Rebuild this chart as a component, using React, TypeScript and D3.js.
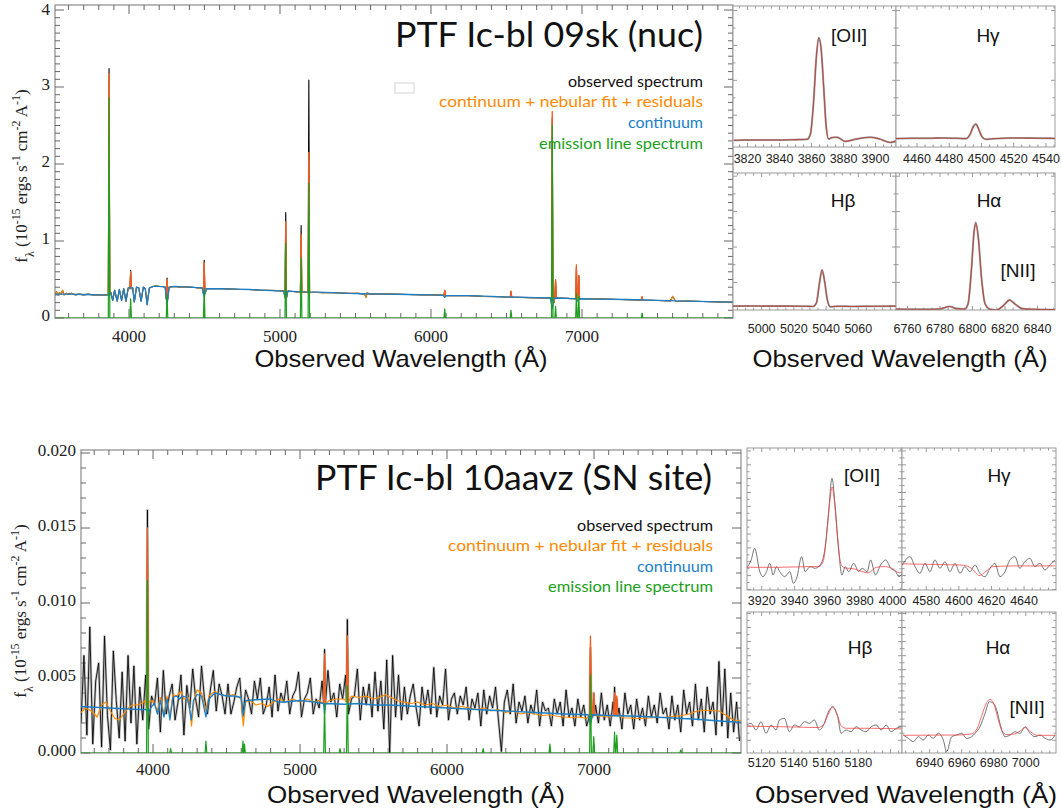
import React from "react";
import * as d3 from "d3";

type Pt = [number, number];

// ================= TOP: PTF Ic-bl 09sk (nuc), flux in 1e-15 =================
const mainXTicks = [4000, 5000, 6000, 7000];
const topYTicks = [0, 1, 2, 3, 4];
const topContinuum: Pt[] = [
  [3510, 0.31], [3600, 0.31], [3700, 0.305], [3800, 0.3], [3860, 0.3], [3880, 0.33], [3892, 0.23], [3905, 0.36],
  [3922, 0.22], [3936, 0.37], [3951, 0.23], [3965, 0.38], [3980, 0.22], [3995, 0.39], [4025, 0.39], [4035, 0.21],
  [4050, 0.4], [4065, 0.39], [4080, 0.22], [4095, 0.4], [4108, 0.38], [4120, 0.17], [4135, 0.39], [4160, 0.41],
  [4200, 0.41], [4240, 0.4], [4252, 0.16], [4265, 0.4], [4300, 0.41], [4400, 0.4], [4485, 0.39], [4498, 0.27],
  [4512, 0.38], [4600, 0.38], [4700, 0.375], [4800, 0.37], [4900, 0.36], [5025, 0.35], [5038, 0.24], [5052, 0.35],
  [5150, 0.34], [5250, 0.335], [5350, 0.33], [5450, 0.32], [5550, 0.315], [5700, 0.31], [5850, 0.305], [6000, 0.3],
  [6080, 0.295], [6091, 0.27], [6100, 0.29], [6250, 0.29], [6400, 0.28], [6550, 0.27], [6700, 0.265], [6790, 0.26],
  [6803, 0.12], [6816, 0.26], [6900, 0.255], [6960, 0.25], [6970, 0.22], [6985, 0.25], [7100, 0.245], [7300, 0.24],
  [7500, 0.23], [7700, 0.22], [7900, 0.21], [8000, 0.205],
];
const topObserved: Pt[] = [
  [3510, 0.31], [3520, 0.34], [3530, 0.3], [3540, 0.33], [3550, 0.31], [3560, 0.36], [3570, 0.3], [3585, 0.32],
  [3600, 0.31], [3620, 0.32], [3645, 0.3], [3670, 0.31], [3700, 0.3], [3730, 0.31], [3760, 0.3], [3790, 0.3],
  [3820, 0.295], [3850, 0.3], [3880, 0.33], [3892, 0.23], [3905, 0.36], [3922, 0.22], [3936, 0.37], [3951, 0.23],
  [3965, 0.38], [3980, 0.22], [3995, 0.39], [4025, 0.39], [4035, 0.21], [4050, 0.4], [4065, 0.39], [4080, 0.22],
  [4095, 0.4], [4108, 0.38], [4120, 0.18], [4135, 0.39], [4160, 0.41], [4180, 0.42], [4200, 0.41], [4225, 0.41],
  [4240, 0.4], [4246, 0.25], [4258, 0.25], [4265, 0.4], [4300, 0.41], [4340, 0.4], [4380, 0.405], [4420, 0.4],
  [4460, 0.39], [4485, 0.39], [4492, 0.32], [4505, 0.32], [4512, 0.38], [4560, 0.38], [4620, 0.38], [4680, 0.375],
  [4740, 0.37], [4800, 0.37], [4860, 0.36], [4920, 0.36], [4980, 0.355], [5025, 0.35], [5032, 0.27], [5045, 0.27],
  [5052, 0.35], [5100, 0.34], [5160, 0.34], [5220, 0.335], [5280, 0.33], [5340, 0.33], [5400, 0.325], [5460, 0.32],
  [5520, 0.32], [5560, 0.31], [5570, 0.27], [5578, 0.33], [5590, 0.31], [5650, 0.31], [5750, 0.31], [5850, 0.305],
  [5950, 0.3], [6050, 0.3], [6085, 0.295], [6100, 0.29], [6150, 0.29], [6250, 0.29], [6350, 0.28], [6450, 0.275],
  [6550, 0.27], [6650, 0.265], [6750, 0.26], [6790, 0.26], [6815, 0.2], [6835, 0.26], [6900, 0.255], [6950, 0.25],
  [6990, 0.25], [7050, 0.25], [7150, 0.245], [7250, 0.24], [7350, 0.235], [7450, 0.23], [7550, 0.225], [7585, 0.22],
  [7600, 0.28], [7610, 0.25], [7620, 0.215], [7700, 0.22], [7800, 0.215], [7900, 0.21], [8000, 0.205],
];
// [wavelength, base, observed peak, fit peak, emission-line peak]
const topLines: number[][] = [
  [3868, 0.3, 3.24, 3.17, 2.86],
  [4011, 0.38, 0.62, 0.6, 0.25],
  [4252, 0.25, 0.52, 0.5, 0.3],
  [4498, 0.33, 0.75, 0.72, 0.38],
  [5038, 0.28, 1.37, 1.25, 0.97],
  [5140, 0.33, 1.2, 1.08, 0.78],
  [5191, 0.33, 3.09, 2.15, 1.75],
  [6091, 0.29, 0.36, 0.36, 0.12],
  [6530, 0.27, 0.34, 0.35, 0.1],
  [6803, 0.22, 2.6, 2.68, 2.5],
  [6825, 0.26, 0.48, 0.5, 0.15],
  [6963, 0.25, 0.66, 0.69, 0.32],
  [6979, 0.25, 0.55, 0.55, 0.28],
  [7398, 0.23, 0.27, 0.28, 0.06],
];

// ================= BOTTOM: PTF Ic-bl 10aavz (SN site), flux in units of 1e-3 (x1e-15) =================
const bottomYTicks = [0, 5, 10, 15, 20];
const bottomYTickLabels = ["0.000", "0.005", "0.010", "0.015", "0.020"];
const bottomObsStart = 3510;
const bottomObsStep = 20;
const bottomObserved = [
  2.0, 6.5, 1.2, 8.4, 0.6, 4.8, 6.0, 0.4, 7.8, 2.5,
  0.2, 6.8, 3.5, 1.0, 5.4, 0.8, 6.5, 2.0, 5.8, 0.6,
  4.4, 2.2, 5.2, 1.6, 3.8, 3.2, 5.0, 1.4, 5.5, 2.6,
  3.8, 4.6, 2.2, 3.4, 5.2, 1.2, 4.5, 3.0, 5.6, 3.6,
  2.4, 5.8, 3.6, 2.6, 4.2, 5.5, 2.8, 4.6, 3.8, 2.6,
  4.6, 2.6, 3.4, 4.4, 5.0, 2.4, 4.2, 3.6, 2.6, 4.8,
  3.6, 5.0, 2.6, 3.2, 4.4, 2.4, 5.2, 2.8, 4.0, 3.4,
  4.8, 2.6, 3.8, 4.2, 5.4, 2.4, 3.6, 4.0, 5.0, 2.6,
  3.6, 3.0, 4.8, 2.8, 5.5, 3.4, 4.0, 2.4, 4.6, 3.6,
  5.2, 2.6, 3.6, 3.8, 5.6, 2.2, 4.4, 3.2, 4.6, 2.4,
  5.4, 2.8, 4.8, 1.6, 6.2, 0.0, 6.5, 2.4, 5.2, 2.2,
  4.4, 2.6, 3.8, 4.6, 3.0, 1.8, 4.4, 3.0, 4.2, 2.6,
  5.7, 2.4, 3.8, 3.2, 5.6, 2.2, 3.6, 4.0, 2.6, 3.8,
  3.2, 4.4, 2.2, 3.6, 3.0, 4.0, 1.8, 4.2, 2.6, 3.8,
  3.0, 4.4, 2.2, 0.1, 3.4, 4.2, 2.6, 4.6, 2.0, 3.4,
  2.8, 3.8, 2.0, 3.2, 2.6, 4.2, 1.8, 3.4, 2.8, 3.0,
  1.8, 3.6, 2.6, 3.4, 1.8, 4.2, 2.4, 3.0, 1.8, 3.6,
  2.4, 3.2, 1.8, 3.6, 2.4, 3.2, 2.0, 4.0, 2.2, 3.2,
  1.8, 3.4, 2.6, 3.0, 1.6, 4.0, 2.6, 3.2, 1.6, 3.6,
  2.2, 3.0, 1.8, 3.8, 2.4, 3.2, 2.0, 4.0, 2.6, 3.0,
  1.6, 3.8, 2.2, 3.2, 1.4, 4.2, 2.6, 3.4, 1.8, 4.6,
  2.2, 3.6, 1.4, 4.4, 2.6, 3.4, 1.2, 6.1, 1.8, 5.6,
  1.0, 4.0, 1.4, 3.4, 0.8,
];
const bottomContinuum: Pt[] = [
  [3510, 3.1], [3700, 3.0], [3900, 2.9], [3950, 2.9], [3970, 2.7], [3990, 3.1], [4010, 3.3], [4030, 2.6], [4050, 3.5],
  [4075, 2.4], [4095, 3.6], [4115, 2.2], [4135, 3.7], [4160, 3.8], [4180, 3.6], [4200, 3.8], [4230, 3.7], [4245, 3.2],
  [4260, 2.2], [4275, 3.5], [4300, 3.9], [4330, 3.8], [4360, 2.4], [4380, 3.6], [4420, 4.0], [4460, 3.9], [4500, 3.8],
  [4550, 3.8], [4600, 3.7], [4614, 2.5], [4630, 3.5], [4700, 3.55], [4800, 3.6], [4850, 3.4], [4900, 3.4], [5000, 3.5],
  [5100, 3.4], [5160, 3.3], [5167, 2.6], [5175, 3.3], [5300, 3.25], [5400, 3.3], [5500, 3.2], [5600, 3.2], [5700, 3.15],
  [5800, 3.1], [6000, 3.0], [6200, 2.9], [6400, 2.8], [6600, 2.7], [6800, 2.6], [6960, 2.55], [6976, 1.9], [6990, 2.55],
  [7100, 2.5], [7300, 2.45], [7500, 2.35], [7700, 2.25], [7900, 2.1], [8000, 2.05],
];
const bottomFit: Pt[] = [
  [3510, 2.7], [3540, 3.0], [3580, 2.8], [3620, 2.4], [3650, 3.2], [3680, 3.4], [3710, 2.8], [3740, 2.3], [3770, 2.2],
  [3800, 2.6], [3830, 3.0], [3860, 3.2], [3890, 3.2], [3920, 3.3], [3950, 3.5], [3970, 3.4], [4000, 3.5], [4030, 2.8],
  [4050, 3.7], [4075, 2.6], [4095, 3.8], [4115, 2.4], [4135, 3.9], [4160, 3.8], [4190, 4.1], [4210, 3.6], [4240, 3.7],
  [4262, 1.8], [4280, 3.6], [4300, 4.2], [4330, 4.0], [4360, 2.8], [4380, 3.8], [4420, 4.1], [4460, 3.9], [4500, 3.8],
  [4550, 3.9], [4600, 3.6], [4614, 1.8], [4630, 3.4], [4660, 3.5], [4700, 3.2], [4740, 3.3], [4780, 3.1], [4820, 3.4],
  [4860, 3.6], [4900, 3.4], [4950, 3.6], [5000, 3.4], [5050, 3.6], [5100, 3.4], [5130, 3.5], [5200, 3.5], [5250, 3.6],
  [5300, 3.6], [5350, 3.8], [5400, 3.7], [5450, 3.8], [5500, 3.6], [5540, 3.7], [5580, 3.9], [5620, 3.7], [5660, 3.5],
  [5700, 3.4], [5760, 3.3], [5800, 3.4], [5850, 3.2], [5900, 3.3], [5950, 3.1], [6000, 3.2], [6050, 3.0], [6100, 3.1],
  [6150, 3.0], [6200, 2.9], [6250, 3.0], [6300, 2.8], [6350, 2.9], [6400, 2.7], [6450, 2.8], [6500, 2.6], [6550, 2.7],
  [6600, 2.6], [6650, 2.5], [6700, 2.55], [6750, 2.45], [6800, 2.4], [6850, 2.35], [6900, 2.4], [6950, 2.3], [7050, 2.45],
  [7100, 2.4], [7200, 2.35], [7300, 2.3], [7400, 2.35], [7500, 2.4], [7600, 2.5], [7650, 2.6], [7700, 2.8], [7780, 2.85],
  [7850, 2.8], [7900, 2.5], [7950, 2.2], [8000, 2.15],
];
// [wavelength, base, observed peak, fit peak, emission-line peak]
const bottomLines: number[][] = [
  [3962, 3.0, 16.2, 15.0, 11.5],
  [5167, 3.3, 6.9, 6.6, 3.3],
  [5322, 3.4, 8.9, 7.8, 4.5],
  [6976, 2.5, 7.0, 7.8, 5.2],
  [6998, 2.5, 4.0, 4.0, 1.1],
  [7140, 2.5, 4.4, 4.0, 1.4],
  [7155, 2.5, 3.6, 3.8, 1.2],
];
// [wavelength, emission-line peak]
const bottomWeakLines: number[][] = [
  [4120, 0.3], [4360, 0.8], [4612, 0.8], [4622, 0.6], [5272, 0.3], [6246, 0.3], [6700, 0.6], [7590, 0.2],
];

// ================= INSETS, top object (1e-15) =================
const topOII: Pt[] = [
  [3811.4, 0.28], [3818.6, 0.29], [3829, 0.29], [3839.5, 0.29], [3849.9, 0.3], [3857.2, 0.31], [3859.25, 0.45],
  [3861.3, 1.4], [3862.9, 2.6], [3864.5, 3.22], [3866, 2.9], [3867.6, 1.8], [3869.1, 0.7], [3870.7, 0.32],
  [3872.8, 0.36], [3875.9, 0.37], [3881.1, 0.25], [3886.3, 0.3], [3891.5, 0.35], [3896.7, 0.37], [3901.9, 0.33],
  [3909.2, 0.22], [3913.4, 0.27],
];
const topHg: Pt[] = [
  [4446.75, 0.33], [4456.9, 0.34], [4467.1, 0.34], [4477.2, 0.35], [4485.3, 0.34], [4490.4, 0.33], [4492.9, 0.45],
  [4495, 0.68], [4496.5, 0.75], [4498, 0.63], [4500.1, 0.4], [4502.6, 0.31], [4507.7, 0.33], [4517.8, 0.35],
  [4528, 0.345], [4538.1, 0.34], [4545.6, 0.335],
];
const topHb: Pt[] = [
  [4982.2, 0.33], [4993, 0.335], [5002, 0.33], [5015.6, 0.33], [5027.3, 0.325], [5031.8, 0.32], [5034, 0.42],
  [5035.8, 0.95], [5037.5, 1.35], [5039, 1.05], [5040.8, 0.5], [5042.6, 0.31], [5047.1, 0.325], [5056.1, 0.32],
  [5069.6, 0.325], [5083.4, 0.33],
];
const topHa: Pt[] = [
  [6752.7, 0.25], [6769.3, 0.24], [6779.7, 0.25], [6785.9, 0.32], [6790, 0.26], [6795.3, 0.25], [6797.3, 0.4],
  [6799.4, 1.4], [6800.9, 2.4], [6802, 2.69], [6803.5, 2.3], [6805.6, 1.1], [6807.7, 0.4], [6810.8, 0.24],
  [6815, 0.22], [6819.1, 0.35], [6822.8, 0.5], [6826.4, 0.38], [6830.5, 0.26], [6836.8, 0.24], [6850.8, 0.23],
];

// ================= INSETS, bottom object (1e-3 units) =================
const botOIIObs: Pt[] = [
  [3910.6, 3.06], [3913.6, 4.3], [3915.7, 5.95], [3918.8, 2.57], [3920.8, 1.84], [3922.9, 2.57], [3924.9, 3.77],
  [3927, 2.09], [3929, 3.29], [3931, 2.57], [3934, 1.84], [3937.2, 2.57], [3939.3, 0.89], [3941.3, 1.6], [3944.4, 4.74],
  [3946.5, 2.57], [3949.5, 3.29], [3952.6, 3.06], [3955.7, 3.53], [3958.8, 6.18], [3960.8, 11.0], [3962.9, 16.06],
  [3964.9, 11.96], [3967, 5.7], [3969, 2.09], [3971, 3.29], [3973.1, 2.57], [3976.2, 3.77], [3979.3, 2.57],
  [3981.3, 3.06], [3984.4, 2.57], [3986.5, 4.26], [3989.5, 2.09], [3992.6, 3.53], [3995.7, 4.26], [3998.8, 3.06],
  [4001.8, 2.57], [4003.9, 1.84], [4006.4, 2.57],
];
const botOIIFit: Pt[] = [
  [3910.6, 3.2], [3930, 3.2], [3950, 3.3], [3955, 3.3], [3957.5, 4.0], [3959.5, 7.5], [3961.5, 12.5], [3963, 14.8],
  [3964.5, 12.5], [3966.5, 7.0], [3968.5, 3.6], [3971, 3.1], [3976, 3.0], [3980, 2.7], [3985, 2.4], [3990, 3.2],
  [3995, 3.3], [4000, 3.0], [4004, 2.4], [4006.4, 2.6],
];
const botHgObs: Pt[] = [
  [4565.3, 3.53], [4570, 4.74], [4573.1, 3.29], [4576.1, 2.33], [4579.2, 3.77], [4582.3, 2.57], [4585.3, 4.26],
  [4588.4, 3.06], [4591.5, 4.01], [4594.5, 2.57], [4597.6, 3.77], [4600.7, 2.33], [4603.7, 3.29], [4606.8, 2.57],
  [4609.9, 3.53], [4612.9, 2.33], [4616, 1.84], [4619.1, 3.06], [4622.1, 3.77], [4625.2, 1.84], [4628.3, 2.57],
  [4631.3, 4.26], [4634.4, 4.74], [4637.4, 3.06], [4640.5, 4.01], [4643.6, 4.5], [4646.6, 3.29], [4649.7, 3.77],
  [4652.8, 2.81], [4655.8, 3.53], [4658.9, 4.26],
];
const botHgFit: Pt[] = [
  [4565.3, 3.7], [4588, 3.6], [4603, 3.5], [4608, 3.0], [4612.5, 2.0], [4616.5, 2.6], [4621, 3.3], [4635, 3.4], [4659, 3.4],
];
const botHbObs: Pt[] = [
  [5110.3, 4.16], [5113.4, 4.4], [5116.5, 3.45], [5119.6, 4.63], [5122.7, 2.98], [5125.8, 4.16], [5128.9, 3.45],
  [5131, 4.87], [5134.1, 5.1], [5137.2, 3.21], [5140.3, 4.16], [5143.4, 3.92], [5146.5, 4.63], [5149.6, 4.4],
  [5152.7, 4.87], [5155.8, 3.45], [5158.9, 4.4], [5161, 5.82], [5164.1, 6.75], [5167.2, 5.34], [5169.3, 2.98],
  [5172.4, 3.45], [5175.5, 3.21], [5178.6, 3.92], [5181.7, 3.45], [5184.8, 3.21], [5188, 3.92], [5191.1, 4.16],
  [5194.2, 3.45], [5197.3, 4.16], [5200.4, 3.21], [5203.5, 3.69], [5207, 3.92],
];
const botHbFit: Pt[] = [
  [5110.3, 4.0], [5137, 3.9], [5155, 3.8], [5158.3, 4.2], [5161, 5.5], [5164, 6.7], [5167, 5.5], [5169.5, 4.0],
  [5172.5, 3.7], [5188, 3.7], [5207, 3.6],
];
const botHaObs: Pt[] = [
  [6923.5, 2.74], [6926.6, 2.27], [6929.75, 1.8], [6932.9, 2.5], [6936, 2.03], [6939.1, 2.74], [6942.25, 2.27],
  [6945.4, 2.98], [6948.5, 2.03], [6950.6, 0.38], [6953.75, 2.5], [6956.9, 2.74], [6960, 2.98], [6963.1, 2.27],
  [6966.25, 2.5], [6968.3, 2.98], [6971.4, 3.92], [6974.6, 5.82], [6977.25, 7.46], [6979.75, 7.23], [6981.9, 6.28],
  [6983.9, 4.4], [6987.1, 2.5], [6990.2, 2.74], [6993.3, 3.21], [6996.4, 2.98], [6999.6, 3.92], [7002.7, 2.98],
  [7005.8, 2.5], [7009, 2.74], [7012.1, 2.27], [7015.2, 2.03], [7018.3, 2.74],
];
const botHaFit: Pt[] = [
  [6923.5, 2.7], [6958, 2.75], [6966, 2.9], [6969.5, 3.6], [6972.5, 5.5], [6975.5, 7.3], [6977.7, 7.8], [6980, 7.2],
  [6982.5, 5.2], [6985, 3.4], [6988, 2.8], [6993, 2.9], [6996.5, 3.3], [6999.6, 3.8], [7003, 3.2], [7007, 2.7], [7018.3, 2.7],
];

// ================= colours / fonts =================
const C_BLACK = "#000";
const C_ORANGE = "#ff8a00";
const C_SPIKE = "#f2582c";
const C_BLUE = "#1a7fc9";
const C_GREEN = "#1e9e1e";
const SERIF = "'Liberation Serif', 'Times New Roman', serif";
const SANS = "'Liberation Sans', Arial, sans-serif";
const CMSANS = "Lato, 'Open Sans', sans-serif";

function spikeSeries(base: Pt[], lines: number[][], peakIdx: number, hw: number, zeroBase = false): Pt[] {
  const kept = base.filter((p) => !lines.some((l) => Math.abs(p[0] - l[0]) <= hw));
  const extra: Pt[] = [];
  for (const l of lines) {
    const b = zeroBase ? 0 : l[1];
    extra.push([l[0] - hw, b], [l[0], l[peakIdx]], [l[0] + hw, b]);
  }
  return kept.concat(extra).sort((a, b) => a[0] - b[0]);
}

type Lin = d3.ScaleLinear<number, number>;

function Ticks({ xs, ys, xMajor, xMinor, yMajor, yMinor, majLen, minLen, color }: {
  xs: Lin; ys: Lin; xMajor: number[]; xMinor: number[]; yMajor: number[]; yMinor: number[];
  majLen: number; minLen: number; color: string;
}) {
  const [x0, x1] = xs.range();
  const [yb, yt] = ys.range();
  const out: React.ReactNode[] = [];
  const addX = (v: number, len: number, k: string) => {
    const x = xs(v);
    out.push(<line key={"xb" + k} x1={x} x2={x} y1={yb} y2={yb - len} />);
    out.push(<line key={"xt" + k} x1={x} x2={x} y1={yt} y2={yt + len} />);
  };
  const addY = (v: number, len: number, k: string) => {
    const y = ys(v);
    out.push(<line key={"yl" + k} x1={x0} x2={x0 + len} y1={y} y2={y} />);
    out.push(<line key={"yr" + k} x1={x1} x2={x1 - len} y1={y} y2={y} />);
  };
  xMinor.forEach((v, i) => addX(v, minLen, "m" + i));
  xMajor.forEach((v, i) => addX(v, majLen, "M" + i));
  yMinor.forEach((v, i) => addY(v, minLen, "m" + i));
  yMajor.forEach((v, i) => addY(v, majLen, "M" + i));
  return <g stroke={color} strokeWidth={1}>{out}</g>;
}

function YLabel({ x, y }: { x: number; y: number }) {
  const sup = { baselineShift: "super", fontSize: "70%" } as React.CSSProperties;
  return (
    <text transform={`translate(${x},${y}) rotate(-90)`} textAnchor="middle" fontFamily={SERIF} fontSize={17} fill="#222">
      f<tspan style={{ baselineShift: "sub", fontSize: "70%" } as React.CSSProperties}>λ</tspan>
      <tspan> (10</tspan><tspan style={sup}>-15</tspan>
      <tspan> ergs s</tspan><tspan style={sup}>-1</tspan>
      <tspan> cm</tspan><tspan style={sup}>-2</tspan>
      <tspan> A</tspan><tspan style={sup}>-1</tspan>
      <tspan>)</tspan>
    </text>
  );
}

function MainPanel(props: {
  id: string; box: [number, number, number, number]; yDomain: [number, number];
  yTicks: number[]; yTickLabels: string[]; yMinorStep: number;
  observed: Pt[]; fit: Pt[]; continuum: Pt[]; emission: Pt[]; lines: number[][]; hw: number; noisy: boolean;
  xLabelY: number; yLabelEnd: number;
}) {
  const [x0, y0, x1, y1] = props.box;
  const xs = d3.scaleLinear().domain([3510, 8000]).range([x0, x1]);
  const ys = d3.scaleLinear().domain(props.yDomain).range([y1, y0]);
  const line = d3.line<Pt>().x((d) => xs(d[0])).y((d) => ys(d[1]));
  const xMinor = d3.range(3600, 8000, 100).filter((v) => v % 1000 !== 0);
  const yMinor = d3.range(0, props.yDomain[1], props.yMinorStep).filter((v) => !props.yTicks.some((t) => Math.abs(t - v) < 1e-6));
  return (
    <g>
      <defs>
        <clipPath id={props.id}>
          <rect x={x0} y={y0} width={x1 - x0} height={y1 - y0} />
        </clipPath>
      </defs>
      <rect x={x0} y={y0} width={x1 - x0} height={y1 - y0} fill="#fff" stroke="#8a8a8a" strokeWidth={1.2} />
      <Ticks xs={xs} ys={ys} xMajor={mainXTicks} xMinor={xMinor} yMajor={props.yTicks} yMinor={yMinor} majLen={9} minLen={5} color="#666" />
      <g clipPath={`url(#${props.id})`} fill="none" strokeLinejoin="round">
        {props.noisy && <path d={line(props.observed) || ""} stroke="#a8a8a8" strokeWidth={2.6} opacity={0.7} />}
        <path d={line(props.observed) || ""} stroke={C_BLACK} strokeWidth={props.noisy ? 0.85 : 1.1} />
        <path d={line(props.fit) || ""} stroke={C_ORANGE} strokeWidth={props.noisy ? 1.2 : 1.1} />
        {props.lines.map((l, i) => (
          <path key={i} d={line([[l[0] - props.hw, l[1]], [l[0], l[3]], [l[0] + props.hw, l[1]]]) || ""} stroke={C_SPIKE} strokeWidth={1.1} />
        ))}
        <path d={line(props.continuum) || ""} stroke={C_BLUE} strokeWidth={1.3} />
        <path d={line(props.emission) || ""} stroke={C_GREEN} strokeWidth={1.2} />
      </g>
      {mainXTicks.map((t) => (
        <text key={t} x={xs(t)} y={props.xLabelY} textAnchor="middle" fontFamily={SERIF} fontSize={17} fill="#222">{t}</text>
      ))}
      {props.yTicks.map((t, i) => (
        <text key={t} x={props.yLabelEnd} y={Math.max(ys(t) - 3, 9)} dy="0.35em" textAnchor="end" fontFamily={SERIF} fontSize={17} fill="#222">
          {props.yTickLabels[i]}
        </text>
      ))}
    </g>
  );
}

function Inset(props: {
  box: [number, number, number, number]; xDomain: [number, number]; yDomain: [number, number];
  ticks: number[]; yStep: number; obs: Pt[]; fit: Pt[]; noisy: boolean;
  labels: { text: string; x: number; y: number }[]; tickLabelY: number; id: string;
}) {
  const [x0, y0, x1, y1] = props.box;
  const xs = d3.scaleLinear().domain(props.xDomain).range([x0, x1]);
  const ys = d3.scaleLinear().domain(props.yDomain).range([y1, y0]);
  const line = d3.line<Pt>().x((d) => xs(d[0])).y((d) => ys(d[1])).curve(d3.curveMonotoneX);
  const xMinor = d3.range(Math.ceil(props.xDomain[0] / 5) * 5, props.xDomain[1], 5).filter((v) => v % 20 !== 0);
  const allMajor = d3.range(Math.ceil(props.xDomain[0] / 20) * 20, props.xDomain[1], 20);
  const yMajor = d3.range(Math.ceil(props.yDomain[0] / props.yStep) * props.yStep, props.yDomain[1], props.yStep);
  const yMinor = yMajor.map((v) => v + props.yStep / 2).filter((v) => v < props.yDomain[1]);
  return (
    <g>
      <defs>
        <clipPath id={props.id}>
          <rect x={x0} y={y0} width={x1 - x0} height={y1 - y0} />
        </clipPath>
      </defs>
      <rect x={x0} y={y0} width={x1 - x0} height={y1 - y0} fill="#fff" stroke="#9a9a9a" strokeWidth={1} />
      <Ticks xs={xs} ys={ys} xMajor={allMajor} xMinor={xMinor} yMajor={yMajor} yMinor={yMinor} majLen={4} minLen={2.5} color="#999" />
      <g clipPath={`url(#${props.id})`} fill="none" strokeLinejoin="round">
        {props.noisy ? (
          <path d={line(props.obs) || ""} stroke="#4a4a4a" strokeWidth={0.9} opacity={0.85} />
        ) : (
          <path d={line(props.obs) || ""} stroke="#9aa6a6" strokeWidth={2} />
        )}
        <path d={line(props.fit) || ""} stroke={props.noisy ? "#f03c3c" : "#b5473f"} strokeWidth={props.noisy ? 1 : 1.1} opacity={props.noisy ? 0.75 : 0.95} />
      </g>
      {props.ticks.map((t) => (
        <text key={t} x={xs(t)} y={props.tickLabelY} textAnchor="middle" fontFamily={SANS} fontSize={12.5} fill="#222">{t}</text>
      ))}
      {props.labels.map((l) => (
        <text key={l.text} x={l.x} y={l.y} textAnchor="middle" fontFamily={SANS} fontSize={19} fill="#111">{l.text}</text>
      ))}
    </g>
  );
}

function Legend({ xEnd, baselines, lengths }: { xEnd: number; baselines: number[]; lengths: number[] }) {
  const items = [
    { t: "observed spectrum", c: "#111" },
    { t: "continuum + nebular fit + residuals", c: C_ORANGE },
    { t: "continuum", c: C_BLUE },
    { t: "emission line spectrum", c: "#1aa01a" },
  ];
  return (
    <g fontFamily={CMSANS} fontSize={16}>
      {items.map((it, i) => (
        <text key={i} x={xEnd} y={baselines[i]} textAnchor="end" fill={it.c} textLength={lengths[i]} lengthAdjust="spacingAndGlyphs">
          {it.t}
        </text>
      ))}
    </g>
  );
}

export default function App() {
  // top main series
  const tObs = spikeSeries(topObserved, topLines, 2, 5);
  const tFit = spikeSeries(topObserved, topLines, 3, 5);
  const tEm = spikeSeries([[3510, 0], [8000, 0]], topLines, 4, 5, true);
  // bottom main series
  const bObsPts: Pt[] = bottomObserved.map((v, i) => [bottomObsStart + i * bottomObsStep, v]);
  const bObs = spikeSeries(bObsPts, bottomLines, 2, 6);
  const bFit = spikeSeries(bottomFit, bottomLines, 3, 6);
  const weak = bottomWeakLines.map((w) => [w[0], 0, w[1], w[1], w[1]]);
  const bEm = spikeSeries([[3510, 0], [8000, 0]], bottomLines.concat(weak), 4, 6, true);

  return (
    <div style={{ position: "absolute", left: 0, top: 0 }}>
      <svg width={1062} height={812} viewBox="0 0 1062 812" style={{ display: "block", background: "#fff" }}>
        {/* ===== TOP ===== */}
        <MainPanel id="clipTop" box={[55, 5, 733, 318]} yDomain={[0, 4.065]} yTicks={topYTicks}
          yTickLabels={topYTicks.map(String)} yMinorStep={0.1}
          observed={tObs} fit={tFit} continuum={topContinuum} emission={tEm} lines={topLines} hw={5} noisy={false}
          xLabelY={342} yLabelEnd={50} />
        <YLabel x={27} y={176} />
        <text x={703} y={47} textAnchor="end" fontFamily={CMSANS} fontSize={35} fill="#111" textLength={308} lengthAdjust="spacingAndGlyphs">
          PTF Ic-bl 09sk (nuc)
        </text>
        <rect x={395} y={83} width={19} height={10} fill="none" stroke="#c8c8c8" strokeWidth={0.8} />
        <Legend xEnd={703} baselines={[87, 107, 128, 149]} lengths={[135, 264, 75, 164]} />
        <text x={401} y={367} textAnchor="middle" fontFamily={SANS} fontSize={24} fill="#111" textLength={293} lengthAdjust="spacingAndGlyphs">
          Observed Wavelength (Å)
        </text>

        <Inset id="ti1" box={[733, 6, 896, 147]} xDomain={[3810.9, 3912.8]} yDomain={[0.09, 4.13]} ticks={[3820, 3840, 3860, 3880, 3900]}
          yStep={1} obs={topOII} fit={topOII} noisy={false} labels={[{ text: "[OII]", x: 849, y: 42 }]} tickLabelY={163} />
        <Inset id="ti2" box={[896, 6, 1055, 147]} xDomain={[4447, 4545.6]} yDomain={[0.09, 4.13]} ticks={[4460, 4480, 4500, 4520, 4540]}
          yStep={1} obs={topHg} fit={topHg} noisy={false} labels={[{ text: "Hγ", x: 988, y: 42 }]} tickLabelY={163} />
        <Inset id="ti3" box={[733, 173, 896, 310]} xDomain={[4982.2, 5083.4]} yDomain={[0.22, 4.09]} ticks={[5000, 5020, 5040, 5060]}
          yStep={1} obs={topHb} fit={topHb} noisy={false} labels={[{ text: "Hβ", x: 843, y: 207 }]} tickLabelY={333} />
        <Inset id="ti4" box={[896, 173, 1055, 310]} xDomain={[6752.9, 6850.8]} yDomain={[0.22, 4.09]} ticks={[6760, 6780, 6800, 6820, 6840]}
          yStep={1} obs={topHa} fit={topHa} noisy={false}
          labels={[{ text: "Hα", x: 989, y: 207 }, { text: "[NII]", x: 1018, y: 277 }]} tickLabelY={333} />
        <text x={900} y={367} textAnchor="middle" fontFamily={SANS} fontSize={24} fill="#111" textLength={295} lengthAdjust="spacingAndGlyphs">
          Observed Wavelength (Å)
        </text>

        {/* ===== BOTTOM ===== */}
        <MainPanel id="clipBot" box={[81, 450, 741, 753]} yDomain={[0, 20.2]} yTicks={bottomYTicks}
          yTickLabels={bottomYTickLabels} yMinorStep={1}
          observed={bObs} fit={bFit} continuum={bottomContinuum} emission={bEm} lines={bottomLines} hw={6} noisy={true}
          xLabelY={775} yLabelEnd={76} />
        <YLabel x={26} y={611} />
        <text x={712} y={490} textAnchor="end" fontFamily={CMSANS} fontSize={35} fill="#111" textLength={397} lengthAdjust="spacingAndGlyphs">
          PTF Ic-bl 10aavz (SN site)
        </text>
        <Legend xEnd={713} baselines={[531, 551, 572, 592]} lengths={[136, 265, 76, 165]} />
        <text x={416} y={803} textAnchor="middle" fontFamily={SANS} fontSize={24} fill="#111" textLength={298} lengthAdjust="spacingAndGlyphs">
          Observed Wavelength (Å)
        </text>

        <Inset id="bi1" box={[747, 448, 902, 590]} xDomain={[3911, 4005.7]} yDomain={[-0.08, 20.43]} ticks={[3920, 3940, 3960, 3980, 4000]}
          yStep={2} obs={botOIIObs} fit={botOIIFit} noisy={true} labels={[{ text: "[OII]", x: 862, y: 482 }]} tickLabelY={605} />
        <Inset id="bi2" box={[902, 448, 1056, 590]} xDomain={[4565.1, 4659.6]} yDomain={[-0.08, 20.43]} ticks={[4580, 4600, 4620, 4640]}
          yStep={2} obs={botHgObs} fit={botHgFit} noisy={true} labels={[{ text: "Hγ", x: 999, y: 482 }]} tickLabelY={605} />
        <Inset id="bi3" box={[747, 612, 902, 753]} xDomain={[5110.9, 5207.1]} yDomain={[0.19, 20.2]} ticks={[5120, 5140, 5160, 5180]}
          yStep={2} obs={botHbObs} fit={botHbFit} noisy={true} labels={[{ text: "Hβ", x: 860, y: 654 }]} tickLabelY={767} />
        <Inset id="bi4" box={[902, 612, 1056, 753]} xDomain={[6922.7, 7018.9]} yDomain={[0.19, 20.2]} ticks={[6940, 6960, 6980, 7000]}
          yStep={2} obs={botHaObs} fit={botHaFit} noisy={true}
          labels={[{ text: "Hα", x: 998, y: 654 }, { text: "[NII]", x: 1027, y: 714 }]} tickLabelY={767} />
        <text x={906} y={803} textAnchor="middle" fontFamily={SANS} fontSize={24} fill="#111" textLength={302} lengthAdjust="spacingAndGlyphs">
          Observed Wavelength (Å)
        </text>
      </svg>
    </div>
  );
}
